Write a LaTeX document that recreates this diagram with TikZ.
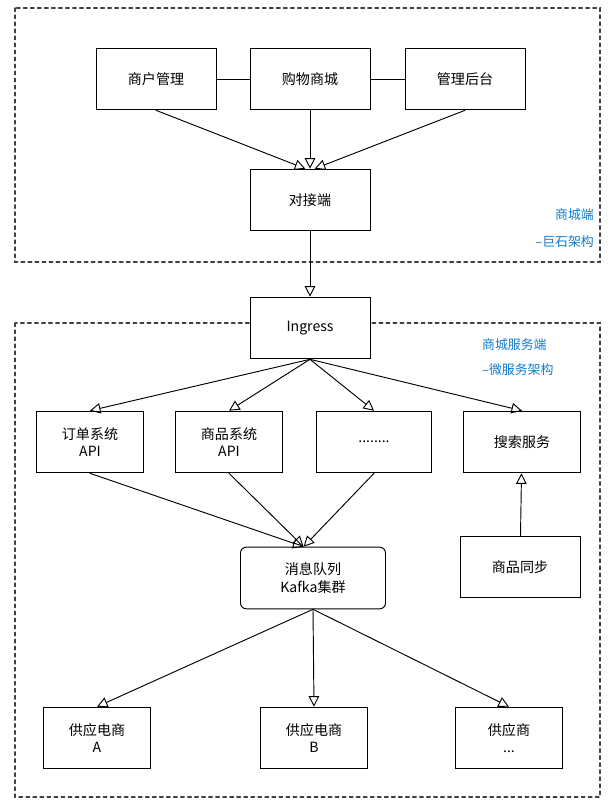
\documentclass[tikz,border=0pt]{standalone}
\usepackage{fontspec}
\setmainfont{Noto Sans CJK SC}
\usetikzlibrary{arrows.meta}
\begin{document}
\begin{tikzpicture}
			[x=0.03cm,y=-0.03cm,line cap=round,
			%Styles
			region/.style={very thick,dashed,draw=black!75},
			box/.style={draw,thick,minimum width=3.6cm,minimum height=1.85cm,align=center,font=\fontsize{12}{15}\selectfont,inner sep=1pt},
			small box/.style={box,minimum width=3.2cm},
			flow/.style={thick,-{Triangle[open,length=9pt,width=9pt]}},
			note/.style={text=cyan!60!blue,font=\fontsize{11}{13}\selectfont,align=left}
			]
			\useasboundingbox (0,0) rectangle (613,806);
			
			%Regions
			\draw[region] (15,8) rectangle (600,262);
			\draw[region] (15,323) rectangle (600,797);
			\node[note,anchor=east] (shop) at (598,215) {商城端};
			\node[note,anchor=east] (mono) at (598,242) {--巨石架构};
			\node[note,anchor=west] (svc) at (478,345) {商城服务端};
			\node[note,anchor=west] (micro) at (478,370) {--微服务架构};
			
			%The graphic
			\node[box] (merchant) at (156,79) {商户管理};
			\node[box] (mall) at (310,79) {购物商城};
			\node[box] (admin) at (465,79) {管理后台};
			\node[box] (dock) at (310,200) {对接端};
			\node[box,fill=white] (ingress) at (310,328) {Ingress};
			
			\node[small box] (order) at (90,442) {订单系统\\API};
			\node[small box] (goods) at (229,442) {商品系统\\API};
			\node[small box,minimum width=3.45cm] (more) at (374,442) {........};
			\node[small box,minimum width=3.5cm] (search) at (522,442) {搜索服务};
			\node[box,rounded corners=5pt,minimum width=4.35cm] (kafka) at (313,578) {消息队列\\Kafka集群};
			\node[small box,minimum width=3.6cm] (sync) at (520,567) {商品同步};
			
			\node[small box] (supA) at (97,738) {供应电商\\A};
			\node[small box] (supB) at (314,738) {供应电商\\B};
			\node[small box] (supC) at (509,738) {供应商\\...};
			
			\draw[thick] (merchant) -- (mall) -- (admin);
			\draw[flow] (merchant.south) -- ([xshift=-4]dock.north);
			\draw[flow] (mall.south) -- (dock.north);
			\draw[flow] (admin.south) -- ([xshift=4]dock.north);
			\draw[flow] (dock) -- (ingress);
			
			\foreach \t in {order,goods,more,search}
				\draw[flow] (ingress.south) -- (\t.north);
			\foreach \s in {order,goods,more}
				\draw[flow] (\s.south) -- ([xshift=-8]kafka.north);
			\draw[flow] (sync) -- (search);
			\foreach \t in {supA,supB,supC}
				\draw[flow] (kafka.south) -- (\t.north);
		\end{tikzpicture}
\end{document}
